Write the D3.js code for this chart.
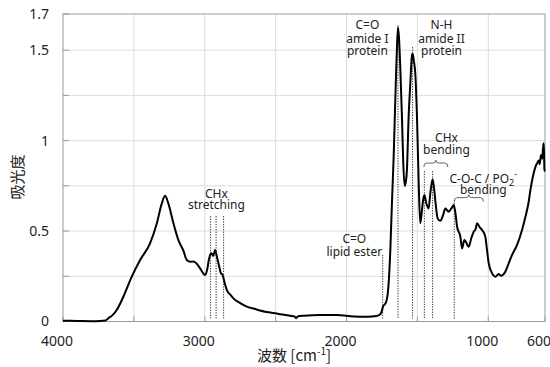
<!DOCTYPE html>
<html>
<head>
<meta charset="utf-8">
<script src="https://cdn.jsdelivr.net/npm/d3@7"></script>
<style>
  body { margin: 0; background: #fff; }
  svg { display: block; font-family: "Noto Sans", sans-serif; }
</style>
</head>
<body>
<div id="chart"></div>
<script>
// IR spectrum: [wavenumber cm-1, absorbance]
const spectrum = [
  [4000, 0.004], [3900, 0.003], [3800, 0.002], [3740, 0.003], [3700, 0.006], [3680, 0.018],
  [3650, 0.035], [3621, 0.064], [3574, 0.137], [3515, 0.248], [3456, 0.34], [3386, 0.432],
  [3338, 0.543], [3303, 0.653], [3280, 0.695], [3257, 0.653], [3221, 0.543], [3186, 0.45],
  [3150, 0.39], [3127, 0.34], [3100, 0.33], [3080, 0.332], [3060, 0.322], [3030, 0.29],
  [3010, 0.265], [2997, 0.257], [2985, 0.28], [2970, 0.345], [2962, 0.367], [2952, 0.377],
  [2940, 0.362], [2927, 0.395], [2918, 0.37], [2903, 0.321], [2885, 0.265], [2875, 0.258],
  [2868, 0.24], [2855, 0.2], [2844, 0.174], [2820, 0.148], [2798, 0.128], [2750, 0.102],
  [2703, 0.082], [2650, 0.07], [2562, 0.052], [2480, 0.042], [2397, 0.032], [2365, 0.027],
  [2355, 0.018], [2345, 0.028], [2300, 0.032], [2186, 0.036], [2068, 0.036], [1950, 0.028],
  [1850, 0.026], [1790, 0.03], [1762, 0.04], [1750, 0.06], [1743, 0.082], [1730, 0.095],
  [1720, 0.109], [1710, 0.15], [1703, 0.211], [1691, 0.395], [1679, 0.671], [1668, 0.9],
  [1656, 1.224], [1645, 1.5], [1637, 1.625], [1630, 1.57], [1621, 1.408], [1609, 1.13],
  [1600, 0.88], [1590, 0.749], [1582, 0.77], [1574, 0.837], [1562, 1.13], [1550, 1.316],
  [1540, 1.46], [1534, 1.482], [1525, 1.44], [1515, 1.371], [1503, 1.13], [1491, 0.764],
  [1480, 0.543], [1470, 0.6], [1460, 0.67], [1451, 0.699], [1437, 0.653], [1421, 0.625],
  [1409, 0.708], [1393, 0.786], [1383, 0.74], [1374, 0.671], [1357, 0.57], [1338, 0.557],
  [1319, 0.588], [1303, 0.625], [1290, 0.615], [1280, 0.607], [1260, 0.625], [1244, 0.644],
  [1232, 0.6], [1220, 0.524], [1197, 0.469], [1185, 0.404], [1169, 0.45], [1155, 0.435],
  [1139, 0.413], [1120, 0.46], [1103, 0.496], [1090, 0.51], [1079, 0.543], [1060, 0.52],
  [1044, 0.506], [1021, 0.469], [1009, 0.395], [997, 0.322], [973, 0.266], [950, 0.248],
  [927, 0.262], [910, 0.253], [880, 0.275], [856, 0.322], [832, 0.368], [797, 0.423],
  [762, 0.506], [738, 0.579], [715, 0.662], [703, 0.727], [680, 0.819], [665, 0.86],
  [656, 0.874], [645, 0.89], [638, 0.87], [628, 0.92], [620, 0.9], [613, 0.966],
  [609, 0.985], [606, 0.9], [604, 0.84], [600, 0.83]
]

const xTicks = [4000, 3500, 3000, 2500, 2000, 1500, 1000, 600]
const xTickLabels = [4000, 3000, 2000, 1000, 600]
const yTicks = [0, 0.25, 0.5, 0.75, 1, 1.25, 1.5, 1.7]
const yTickLabels = [0, 0.5, 1, 1.5, 1.7]

// dotted marker lines: [wavenumber, top absorbance]
const markers = [
  [2960, 0.583], [2920, 0.583], [2867, 0.583],
  [1745, 0.368],
  [1637, 1.638],
  [1534, 1.517],
  [1451, 0.831], [1393, 0.831],
  [1240, 0.671]
]

// band labels: centre wavenumber, baseline absorbance per line, text lines
const bandLabels = [
  { w: 2918, a: [0.683, 0.620], lines: ['CHx', 'stretching'] },
  { w: 1945, a: [0.433, 0.362], lines: ['C=O', 'lipid ester'] },
  { w: 1853, a: [1.616, 1.541, 1.473], lines: ['C=O', 'amide I', 'protein'] },
  { w: 1330, a: [1.616, 1.541, 1.473], lines: ['N-H', 'amide II', 'protein'] },
  { w: 1295, a: [0.994, 0.925], lines: ['CHx', 'bending'] },
  { w: 1035, a: [0.766, 0.705], lines: ['C-O-C / PO2-', 'bending'] }
]

// braces over bands: [from, to, absorbance]
const braces = [
  [1455, 1285, 0.876],
  [1240, 1035, 0.685]
]

const W = 550, H = 367
const m = { l: 63, r: 5, t: 14, b: 45.5 }

const x = d3.scaleLinear().domain([4000, 600]).range([m.l, W - m.r])
const y = d3.scaleLinear().domain([0, 1.7]).range([H - m.b, m.t])

const svg = d3.select('#chart').append('svg')
  .attr('width', W).attr('height', H)

// grid
svg.append('g').selectAll('line.gy')
  .data(yTicks.filter(d => d > 0 && d < 1.7))
  .enter().append('line')
  .attr('x1', m.l).attr('x2', W - m.r)
  .attr('y1', d => y(d)).attr('y2', d => y(d))
  .style('stroke', '#dcdcdc')

svg.append('g').selectAll('line.gx')
  .data(xTicks.filter(d => d < 4000 && d > 600))
  .enter().append('line')
  .attr('x1', d => x(d)).attr('x2', d => x(d))
  .attr('y1', m.t).attr('y2', H - m.b)
  .style('stroke', '#dcdcdc')

// frame
svg.append('rect')
  .attr('x', m.l).attr('y', m.t)
  .attr('width', W - m.r - m.l).attr('height', H - m.b - m.t)
  .style('fill', 'none').style('stroke', '#9a9a9a')

// inner ticks
svg.append('g').selectAll('line')
  .data(yTicks)
  .enter().append('line')
  .attr('x1', m.l).attr('x2', m.l + 6)
  .attr('y1', d => y(d)).attr('y2', d => y(d))
  .style('stroke', '#9a9a9a')

svg.append('g').selectAll('line')
  .data(xTicks)
  .enter().append('line')
  .attr('x1', d => x(d)).attr('x2', d => x(d))
  .attr('y1', H - m.b).attr('y2', H - m.b - 5)
  .style('stroke', '#9a9a9a')

// tick labels
svg.append('g').selectAll('text')
  .data(yTickLabels)
  .enter().append('text')
  .attr('x', m.l - 14).attr('y', d => y(d))
  .attr('dy', '0.35em')
  .attr('text-anchor', 'end')
  .style('font-size', '14px').style('fill', '#222')
  .text(d => d)

svg.append('g').selectAll('text')
  .data(xTickLabels)
  .enter().append('text')
  .attr('x', d => x(d) - 6).attr('y', 345.5)
  .attr('text-anchor', 'middle')
  .style('font-size', '14px').style('fill', '#222')
  .text(d => d)

// axis titles
svg.append('text')
  .attr('transform', `translate(23,177) rotate(-90)`)
  .attr('text-anchor', 'middle')
  .style('font-family', '"Noto Sans CJK JP", sans-serif')
  .style('font-size', '15px').style('fill', '#222')
  .text('吸光度')

const xt = svg.append('text')
  .attr('x', 294).attr('y', 361)
  .attr('text-anchor', 'middle')
  .style('font-family', '"Noto Sans CJK JP", sans-serif')
  .style('font-size', '15px').style('fill', '#222')
xt.append('tspan').text('波数 [cm')
xt.append('tspan').attr('dy', -6).style('font-size', '10px').text('-1')
xt.append('tspan').attr('dy', 6).text(']')

// dotted marker lines
svg.append('g').selectAll('line')
  .data(markers)
  .enter().append('line')
  .attr('x1', d => x(d[0])).attr('x2', d => x(d[0]))
  .attr('y1', d => y(d[1])).attr('y2', y(0) - 3)
  .style('stroke', '#333')
  .style('stroke-width', 1)
  .style('stroke-dasharray', '1.3,1.3')

// braces
svg.append('g').selectAll('path')
  .data(braces)
  .enter().append('path')
  .attr('d', d => {
    const x1 = x(d[0]), x2 = x(d[1]), yy = y(d[2]), mid = (x1 + x2) / 2
    return `M ${x1},${yy + 4} Q ${x1},${yy} ${x1 + 3},${yy} L ${mid - 3},${yy} ` +
      `Q ${mid},${yy} ${mid},${yy - 3} Q ${mid},${yy} ${mid + 3},${yy} ` +
      `L ${x2 - 3},${yy} Q ${x2},${yy} ${x2},${yy + 4}`
  })
  .style('fill', 'none').style('stroke', '#555').style('stroke-width', 0.9)

// band labels
bandLabels.forEach(b => {
  b.lines.forEach((t, i) => {
    const tx = svg.append('text')
      .attr('x', x(b.w)).attr('y', y(b.a[i]))
      .attr('text-anchor', 'middle')
      .style('font-size', '12px').style('fill', '#222')
    if (t === 'C-O-C / PO2-') {
      tx.append('tspan').text('C-O-C / PO')
      tx.append('tspan').attr('dy', 3).style('font-size', '9px').text('2')
      tx.append('tspan').attr('dy', -9).style('font-size', '9px').text('-')
    } else {
      tx.text(t)
    }
  })
})

// spectrum
const line = d3.line()
  .x(d => x(d[0]))
  .y(d => y(d[1]))
  .curve(d3.curveMonotoneX)

svg.append('path')
  .datum(spectrum)
  .attr('d', line)
  .style('fill', 'none')
  .style('stroke', '#000')
  .style('stroke-width', 2)
  .style('stroke-linejoin', 'round')
</script>
</body>
</html>
